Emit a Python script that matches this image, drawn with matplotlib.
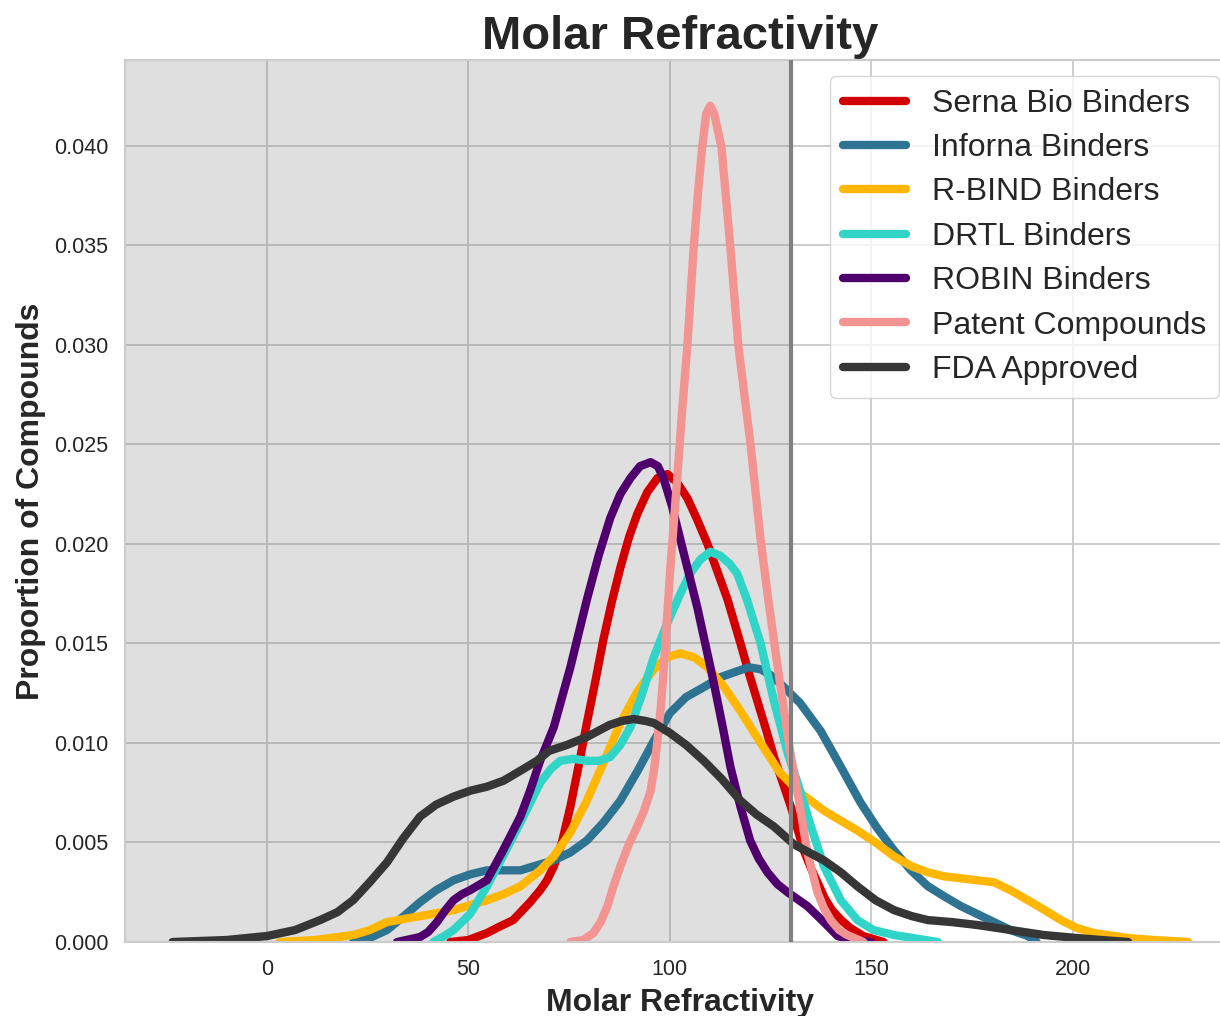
import matplotlib.pyplot as plt
import numpy as np

# =============================================================================
# Donnees (densites KDE)
# =============================================================================

serna_x = [45.5, 50, 54.6, 58, 61.1, 65.3, 67.8, 69.5, 71.2, 73.2, 75.3, 77.3, 79.4, 81.5, 83.5,
           85.6, 87.7, 89.8, 91.9, 94.4, 96.9, 99.4, 101.7, 104.3, 106.8, 109.3, 111.8, 114.3,
           117.5, 119.6, 121.7, 123.8, 125.8, 128, 130, 131.6, 133.2, 135, 136.6, 138.4, 140.2,
           142.5, 144.8, 148, 153]
serna_y = [0, 0.0001, 0.00045, 0.0008, 0.0011, 0.0020, 0.0026, 0.0031, 0.0038, 0.0050, 0.0068,
           0.0088, 0.0110, 0.0131, 0.0152, 0.0171, 0.0188, 0.0203, 0.0215, 0.0226, 0.0233,
           0.0235, 0.0231, 0.0223, 0.0212, 0.0200, 0.0186, 0.0172, 0.0150, 0.0135, 0.0121,
           0.0107, 0.0093, 0.0080, 0.0068, 0.0057, 0.0046, 0.0037, 0.0030, 0.0022, 0.0016,
           0.0011, 0.0007, 0.0003, 0]

inforna_x = [21.4, 25.5, 29.8, 34, 38, 42, 46.3, 50.5, 54.6, 58.7, 62.9, 67.8, 71.2, 75.3, 79.4,
             83.5, 87.7, 92, 96, 100, 104, 108.4, 112.5, 116.7, 119.5, 122.5, 125, 127.3, 132.3,
             137.4, 142.4, 147.3, 151.5, 155.6, 159.8, 164, 168, 172.2, 176.3, 180.4, 184.5,
             188.8, 191]
inforna_y = [0, 0.0002, 0.0006, 0.0013, 0.0020, 0.0026, 0.0031, 0.0034, 0.0036, 0.0036, 0.0036,
             0.0039, 0.0041, 0.0045, 0.0051, 0.0060, 0.0071, 0.0086, 0.0101, 0.0115, 0.0123,
             0.0128, 0.0133, 0.0136, 0.0138, 0.0137, 0.0134, 0.0130, 0.0120, 0.0106, 0.0088,
             0.0070, 0.0057, 0.0046, 0.0036, 0.0028, 0.0023, 0.0018, 0.0014, 0.0010, 0.0006,
             0.0003, 0]

rbind_x = [3.2, 12, 21.4, 25.5, 29.8, 38, 46.3, 54.6, 58.7, 62.9, 67.8, 71.2, 75.3, 79.4, 83.5,
           87.7, 92, 96, 99.3, 102.6, 106, 109.3, 113.5, 117.5, 122.5, 127.3, 132.3, 138.2,
           146.5, 151, 155.6, 160, 164, 168, 172.2, 176.3, 180.4, 184.5, 188.8, 193, 197, 201,
           205.2, 213.7, 220, 228.6]
rbind_y = [0, 0.0001, 0.00035, 0.0006, 0.0010, 0.0013, 0.0016, 0.0021, 0.0024, 0.0028, 0.0036,
           0.0043, 0.0055, 0.0071, 0.0090, 0.0110, 0.0126, 0.0137, 0.0143, 0.0145, 0.0143,
           0.0138, 0.0128, 0.0116, 0.0100, 0.0085, 0.0075, 0.0066, 0.0056, 0.0050, 0.0043,
           0.0038, 0.0035, 0.0033, 0.0032, 0.0031, 0.0030, 0.0026, 0.0021, 0.0016, 0.0011,
           0.0007, 0.00045, 0.0002, 0.0001, 0]

drtl_x = [41.3, 44, 46.3, 50.4, 54.6, 58.8, 62.9, 67.8, 70.5, 72.8, 76, 79.4, 82.5, 85.2, 87.7,
          90.2, 93, 96, 99.3, 102.6, 105, 107.5, 110, 112.5, 114.8, 116.7, 119.1, 122.5, 125.8,
          129.2, 132, 135, 138.2, 142.4, 146.5, 150.5, 155.6, 166.5]
drtl_y = [0, 0.0003, 0.0006, 0.0014, 0.0028, 0.0044, 0.0060, 0.0080, 0.0087, 0.0091, 0.0092,
          0.0091, 0.0091, 0.0093, 0.0099, 0.0108, 0.0124, 0.0143, 0.0160, 0.0175, 0.0185,
          0.0192, 0.0196, 0.0194, 0.0190, 0.0185, 0.0172, 0.0150, 0.0121, 0.0095, 0.0078,
          0.0058, 0.0038, 0.0021, 0.0011, 0.0006, 0.00035, 0]

robin_x = [32.3, 38, 40, 42.2, 44.3, 46.3, 48.4, 50.4, 54.6, 58.6, 62.9, 65.3, 67.8, 71.2, 75.3,
           79.4, 82.3, 85.2, 87.7, 90.2, 92.6, 95.2, 97, 98.4, 100.5, 102.6, 106.8, 110.8, 113,
           115, 117.5, 119.9, 122, 124.2, 126.7, 129.2, 134.1, 138.2, 141.6, 145, 149.8]
robin_y = [0, 0.00025, 0.0005, 0.0010, 0.0016, 0.0021, 0.0024, 0.0026, 0.0031, 0.0046, 0.0063,
           0.0076, 0.0091, 0.0108, 0.0138, 0.0172, 0.0194, 0.0213, 0.0225, 0.0233, 0.0239,
           0.0241, 0.0239, 0.0233, 0.0219, 0.0202, 0.0168, 0.0131, 0.0109, 0.0088, 0.0068,
           0.0051, 0.0042, 0.0035, 0.0029, 0.0025, 0.0018, 0.0010, 0.0003, 0.0001, 0]

patent_x = [75.3, 78.5, 81, 82.8, 84.5, 86, 87.7, 89.8, 91.9, 93.6, 95.2, 96.1, 96.9, 97.7, 98.4,
            99.2, 100, 101.7, 103, 104.3, 105.9, 107, 108, 109, 110, 111, 112.8, 115, 117, 120,
            122.5, 124.4, 127.3, 129.8, 132, 134.1, 136.6, 138.2, 139.9, 142, 144, 148]
patent_y = [0, 0.0001, 0.00045, 0.0010, 0.0018, 0.0028, 0.0038, 0.0049, 0.0058, 0.0066, 0.0076,
            0.0087, 0.0101, 0.0117, 0.0135, 0.0160, 0.0185, 0.0230, 0.0266, 0.0299, 0.0349,
            0.0377, 0.0399, 0.0416, 0.0420, 0.0416, 0.0399, 0.0349, 0.0299, 0.0250, 0.0202,
            0.0172, 0.0130, 0.0096, 0.0071, 0.0045, 0.0025, 0.0017, 0.0011, 0.0006, 0.00035, 0]

fda_x = [-23.4, -10, 0, 7, 13.2, 17.5, 21.4, 25.5, 29.8, 33.8, 38, 42, 46.3, 50.5, 54.6, 58.7,
         62.9, 67, 70, 74.5, 79.4, 85, 88, 91, 94, 96, 100, 104, 108.4, 112.8, 117.5, 121.5,
         125.8, 130.8, 134.5, 138.2, 142.4, 146.5, 151, 155.6, 160, 164, 170, 176.4, 184.6,
         192.8, 201, 207, 213.7]
fda_y = [0, 0.0001, 0.0003, 0.0006, 0.0011, 0.0015, 0.0021, 0.0030, 0.0040, 0.0052, 0.0063,
         0.0069, 0.0073, 0.0076, 0.0078, 0.0081, 0.0086, 0.0091, 0.0096, 0.0099, 0.0103,
         0.0109, 0.0111, 0.0112, 0.0111, 0.0110, 0.0105, 0.0099, 0.0091, 0.0082, 0.0071,
         0.0064, 0.0058, 0.0049, 0.0045, 0.0041, 0.0035, 0.0028, 0.0021, 0.0016, 0.0013,
         0.0011, 0.0010, 0.00085, 0.0006, 0.00035, 0.0002, 0.0001, 0]

series = [
    ('Serna Bio Binders', serna_x, serna_y, '#D20000'),
    ('Inforna Binders', inforna_x, inforna_y, '#2E7391'),
    ('R-BIND Binders', rbind_x, rbind_y, '#FFB703'),
    ('DRTL Binders', drtl_x, drtl_y, '#30D5C8'),
    ('ROBIN Binders', robin_x, robin_y, '#50006C'),
    ('Patent Compounds', patent_x, patent_y, '#F29491'),
    ('FDA Approved', fda_x, fda_y, '#363636'),
]

seuil = 130
x_min, x_max = -35.2, 240.2

# =============================================================================
# Graphique
# =============================================================================

plt.rcParams['font.family'] = ['Liberation Sans', 'DejaVu Sans']
texte = '#262626'

fig = plt.figure(figsize=(12.2, 10.16), dpi=100)
ax = fig.add_axes([125 / 1220, 74 / 1016, 1110 / 1220, 882 / 1016])
ax.set_axisbelow(True)

# Zone grisee a gauche du seuil
ax.axvspan(x_min, seuil, color='gray', alpha=0.25, lw=0, zorder=1)

for nom, xs, ys, couleur in series:
    ax.plot(xs, ys, color=couleur, lw=6, label=nom, zorder=2,
            solid_capstyle='round', solid_joinstyle='round')

ax.axvline(seuil, color='gray', lw=3, zorder=3)

ax.set_xlim(x_min, x_max)
ax.set_ylim(0, 0.0443)
ax.set_xticks([0, 50, 100, 150, 200])
ax.set_yticks(np.arange(0, 0.0401, 0.005))
ax.yaxis.set_major_formatter(plt.FormatStrFormatter('%.3f'))

ax.grid(True, color='#cccccc', lw=1.4)
for s in ax.spines.values():
    s.set_color('#cccccc')
    s.set_linewidth(1.5)
ax.tick_params(length=0, labelsize=15.5, labelcolor=texte, pad=12)

ax.set_title('Molar Refractivity', fontsize=34, fontweight='bold', color=texte, pad=8)
ax.set_xlabel('Molar Refractivity', fontsize=23, fontweight='bold', color=texte, labelpad=6)
ax.set_ylabel('Proportion of Compounds', fontsize=23, fontweight='bold', color=texte, labelpad=6)

leg = ax.legend(loc='upper right', fontsize=23, labelspacing=0.45, frameon=True,
                facecolor='white', edgecolor='#cccccc', framealpha=0.8)
for t in leg.get_texts():
    t.set_color(texte)
for h in leg.get_lines():
    h.set_solid_capstyle('round')

fig.savefig('out.png', dpi=100)
plt.close()
